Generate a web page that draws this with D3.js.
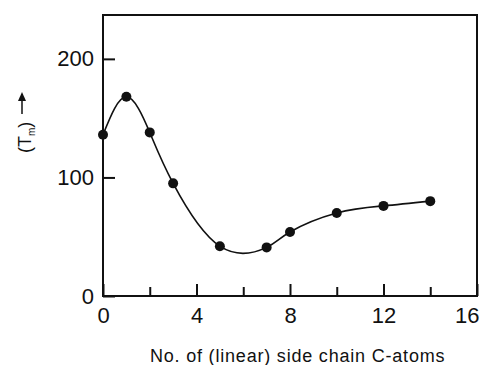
<!DOCTYPE html>
<html>
<head>
<meta charset="utf-8">
<script src="https://cdn.jsdelivr.net/npm/d3@7"></script>
<style>
  body { margin: 0; background: #fff; }
  svg { display: block; }
</style>
</head>
<body>
<div class="chart"></div>
<script>
// side chain C-atoms vs melting temperature
const carbonAtoms = [0, 1, 2, 3, 5, 7, 8, 10, 12, 14];
const tmValues = [136, 168, 138, 95, 42, 41, 54, 70, 76, 80];
const xMajorTicks = [0, 4, 8, 12, 16];
const xMinorTicks = [2, 6, 10, 14];
const yTicks = [0, 100, 200];

const width = 480, height = 365;
const margin = {top: 15, right: 3, bottom: 69, left: 103};

const svg = d3.select(".chart").append("svg")
    .attr("width", width)
    .attr("height", height)
    .attr("font-family", "'Liberation Sans', Arial, sans-serif");

const x = d3.scaleLinear()
    .domain([0, 16])
    .range([margin.left, width - margin.right]);

const y = d3.scaleLinear()
    .domain([0, 237])
    .range([height - margin.bottom, margin.top]);

const data = carbonAtoms.map((c, i) => ({c: c, tm: tmValues[i]}));

// frame
svg.append("rect")
    .attr("x", x(0))
    .attr("y", y(237))
    .attr("width", x(16) - x(0))
    .attr("height", y(0) - y(237))
    .attr("fill", "none")
    .attr("stroke", "#111")
    .attr("stroke-width", 2);

// y axis, ticks pointing inward
svg.append("g")
    .attr("transform", `translate(${x(0)},0)`)
    .call(d3.axisLeft(y).tickValues(yTicks).tickSizeInner(-12).tickSizeOuter(0).tickPadding(10))
    .call(g => g.select(".domain").remove())
    .call(g => g.selectAll(".tick line").attr("stroke", "#111").attr("stroke-width", 2))
    .call(g => g.selectAll(".tick text")
        .attr("font-size", 22)
        .attr("fill", "#111")
        .attr("x", -9));

// x axis major ticks
svg.append("g")
    .attr("transform", `translate(0,${y(0)})`)
    .call(d3.axisBottom(x).tickValues(xMajorTicks).tickSizeInner(-12).tickSizeOuter(0).tickPadding(10))
    .call(g => g.select(".domain").remove())
    .call(g => g.selectAll(".tick line").attr("stroke", "#111").attr("stroke-width", 2))
    .call(g => g.selectAll(".tick text")
        .attr("font-size", 22)
        .attr("fill", "#111")
        .attr("y", 11))
    // last label sits against the right edge
    .call(g => g.selectAll(".tick:last-of-type text")
        .attr("text-anchor", "end")
        .attr("x", 2));

// x axis minor ticks
svg.append("g")
    .attr("transform", `translate(0,${y(0)})`)
    .call(d3.axisBottom(x).tickValues(xMinorTicks).tickSizeInner(-9).tickSizeOuter(0).tickFormat(""))
    .call(g => g.select(".domain").remove())
    .call(g => g.selectAll(".tick line").attr("stroke", "#111").attr("stroke-width", 2));

// curve through the points
const line = d3.line()
    .x(d => x(d.c))
    .y(d => y(d.tm))
    .curve(d3.curveNatural);

svg.append("path")
    .datum(data)
    .attr("fill", "none")
    .attr("stroke", "#111")
    .attr("stroke-width", 1.6)
    .attr("d", line);

svg.append("g")
  .selectAll("circle")
  .data(data)
  .join("circle")
    .attr("cx", d => x(d.c))
    .attr("cy", d => y(d.tm))
    .attr("r", 5)
    .attr("fill", "#111");

// axis titles
svg.append("text")
    .attr("x", 150)
    .attr("y", 362)
    .attr("font-size", 18)
    .attr("letter-spacing", 0.8)
    .attr("fill", "#111")
    .text("No. of (linear) side chain C-atoms");

const yTitle = svg.append("text")
    .attr("transform", "translate(31,153) rotate(-90)")
    .attr("font-size", 18)
    .attr("fill", "#111");
yTitle.append("tspan").text("(T");
yTitle.append("tspan").attr("font-size", 10).attr("dy", 4).text("m");
yTitle.append("tspan").attr("dy", -4).text(")");

// upward arrow after the y title
const arrow = d3.path();
arrow.moveTo(22, 114);
arrow.lineTo(22, 94);
svg.append("path")
    .attr("d", arrow.toString())
    .attr("stroke", "#111")
    .attr("stroke-width", 1.5);
svg.append("path")
    .attr("d", "M18,101 L22,92 L26,101 Z")
    .attr("fill", "#111");
</script>
</body>
</html>
